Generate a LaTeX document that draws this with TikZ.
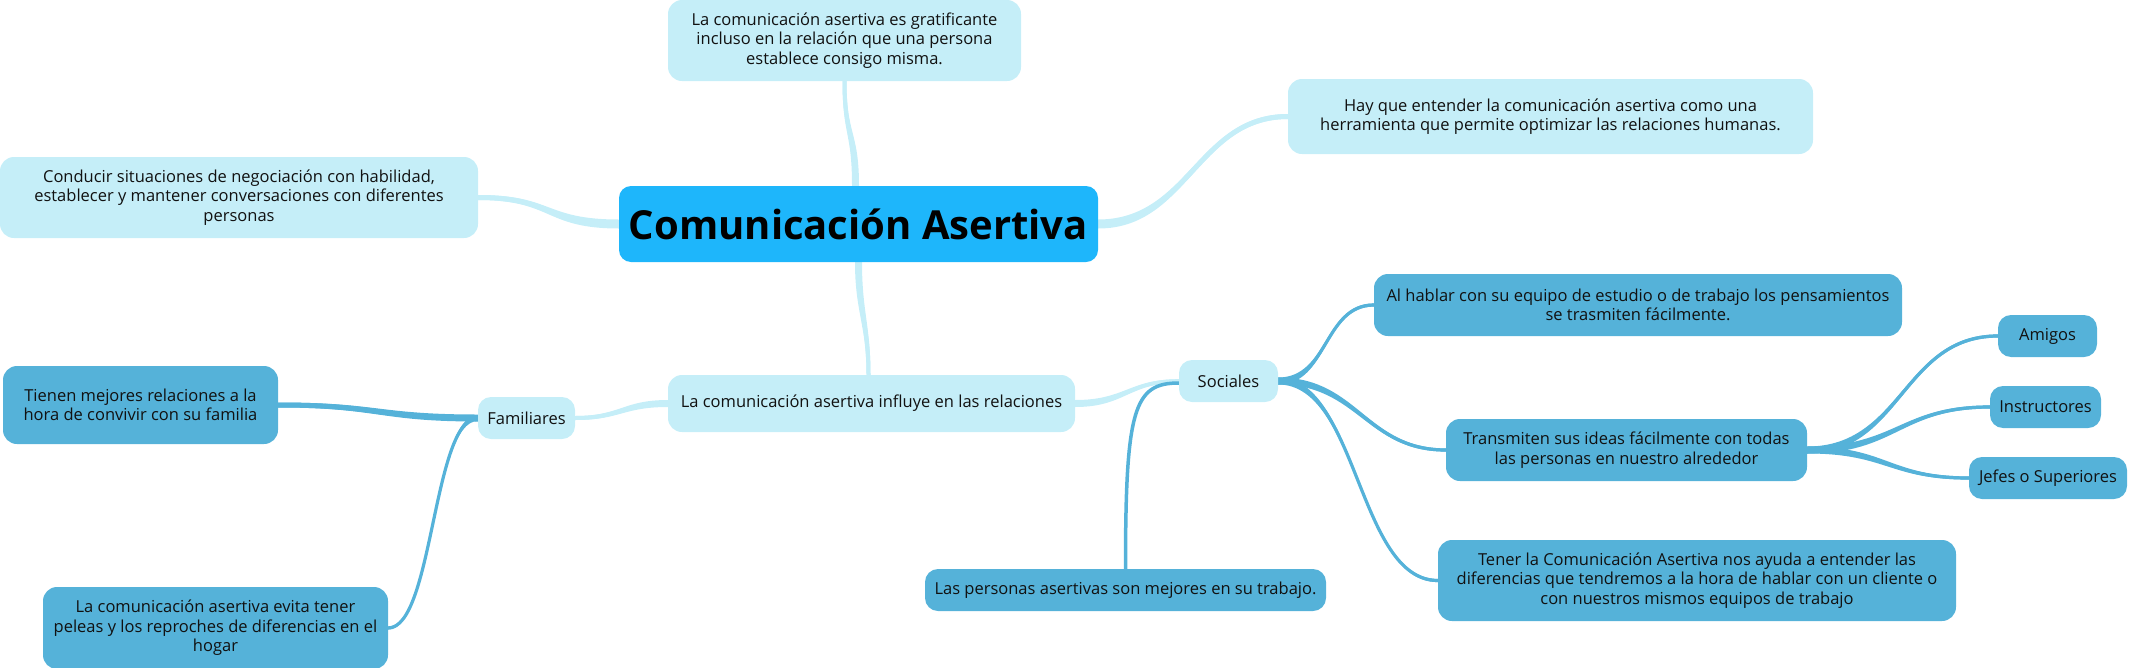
\documentclass[tikz,border=0pt]{standalone}
\usepackage{fontspec}
\setmainfont{Open Sans}
\usetikzlibrary{backgrounds,calc}
\definecolor{lightc}{HTML}{C5EEF8}
\definecolor{rootc}{HTML}{1EB6FB}
\definecolor{darkc}{HTML}{55B2D9}
\definecolor{txtc}{HTML}{111111}
\tikzset{
  mmbox/.style={rounded corners=14pt, inner sep=0pt, align=center, text=txtc,
    font=\fontsize{16.5}{19.5}\selectfont},
  lightbox/.style={mmbox, fill=lightc},
  darkbox/.style={mmbox, fill=darkc},
  rootbox/.style={mmbox, fill=rootc, rounded corners=12pt, text=black,
    font=\fontsize{40}{48}\selectfont\bfseries},
  dline/.style={draw=darkc, line width=3.5pt, line cap=round},
}
% tapered connector, horizontal tangents: start, end, c1dx, c2dx, half-width start, half-width end, colour
\newcommand\taperh[7]{%
  \fill[#7] ($(#1)+(0,-#5)$) .. controls ($(#1)+(#3,-#5)$) and ($(#2)+(#4,-#6)$) .. ($(#2)+(0,-#6)$)
     -- ($(#2)+(0,#6)$) .. controls ($(#2)+(#4,#6)$) and ($(#1)+(#3,#5)$) .. ($(#1)+(0,#5)$) -- cycle;
  \draw[#7, line width={2*#6pt}] (#1) .. controls +(#3,0) and +(#4,0) .. (#2);}
% tapered connector, vertical tangents
\newcommand\taperv[7]{%
  \fill[#7] ($(#1)+(-#5,0)$) .. controls ($(#1)+(-#5,#3)$) and ($(#2)+(-#6,#4)$) .. ($(#2)+(-#6,0)$)
     -- ($(#2)+(#6,0)$) .. controls ($(#2)+(#6,#4)$) and ($(#1)+(#5,#3)$) .. ($(#1)+(#5,0)$) -- cycle;
  \draw[#7, line width={2*#6pt}] (#1) .. controls +(0,#3) and +(0,#4) .. (#2);}
\begin{document}
\begin{tikzpicture}[x=1pt,y=-1pt]
\useasboundingbox (0,0) rectangle (2129,667);
% nodes
\node[rootbox, minimum width=479pt, minimum height=76pt] (root) at (858.5,224) {Comunicación Asertiva};
\node[lightbox, minimum width=353pt, minimum height=81pt] (top) at (844.5,40.5)
  {La comunicación asertiva es gratificante\\incluso en la relación que una persona\\establece consigo misma.};
\node[lightbox, minimum width=478pt, minimum height=81pt] (conducir) at (239,197.5)
  {Conducir situaciones de negociación con habilidad,\\establecer y mantener conversaciones con diferentes\\personas};
\node[lightbox, minimum width=525pt, minimum height=75pt] (hayque) at (1550.5,116.5)
  {Hay que entender la comunicación asertiva como una\\herramienta que permite optimizar las relaciones humanas.};
\node[lightbox, minimum width=407pt, minimum height=57pt] (influye) at (871.5,403.5)
  {La comunicación asertiva influye en las relaciones};
\node[lightbox, minimum width=97pt, minimum height=42pt, rounded corners=13pt] (familiares) at (526.5,418) {Familiares};
\node[lightbox, minimum width=99pt, minimum height=42pt, rounded corners=13pt] (sociales) at (1228.5,381) {Sociales};
\node[darkbox, minimum width=275pt, minimum height=78pt] (tienen) at (140.5,405)
  {Tienen mejores relaciones a la\\hora de convivir con su familia};
\node[darkbox, minimum width=345pt, minimum height=82pt] (evita) at (215.5,628)
  {La comunicación asertiva evita tener\\peleas y los reproches de diferencias en el\\hogar};
\node[darkbox, minimum width=528pt, minimum height=62pt] (alhablar) at (1638,305)
  {Al hablar con su equipo de estudio o de trabajo los pensamientos\\se trasmiten fácilmente.};
\node[darkbox, minimum width=361pt, minimum height=62pt] (transmiten) at (1626.5,450)
  {Transmiten sus ideas fácilmente con todas\\las personas en nuestro alrededor};
\node[darkbox, minimum width=518pt, minimum height=81pt] (tener) at (1697,580.5)
  {Tener la Comunicación Asertiva nos ayuda a entender las\\diferencias que tendremos a la hora de hablar con un cliente o\\con nuestros mismos equipos de trabajo};
\node[darkbox, minimum width=401pt, minimum height=42pt, rounded corners=13pt] (laspersonas) at (1125.5,590)
  {Las personas asertivas son mejores en su trabajo.};
\node[darkbox, minimum width=99pt, minimum height=42pt, rounded corners=13pt] (amigos) at (2047.5,336) {Amigos};
\node[darkbox, minimum width=111pt, minimum height=42pt, rounded corners=13pt] (instructores) at (2045.5,407) {Instructores};
\node[darkbox, minimum width=158pt, minimum height=42pt, rounded corners=13pt] (jefes) at (2048,478) {Jefes o Superiores};
\coordinate (rootN) at ([xshift=-3pt]root.north);
\coordinate (influyeN) at ([xshift=-3pt]influye.north);
\coordinate (socW) at ([yshift=-2pt]sociales.west);
% connectors
\begin{pgfonlayer}{background}
\taperv{rootN}{top.south}{-55}{55}{3.5}{2}{lightc}
\taperv{root.south}{influyeN}{50}{-50}{3.5}{2}{lightc}
\taperh{root.west}{conducir.east}{-75}{75}{4.5}{2.5}{lightc}
\taperh{root.east}{hayque.west}{90}{-90}{4.5}{2.5}{lightc}
\taperh{influye.west}{familiares.east}{-45}{45}{3.5}{2}{lightc}
\taperh{influye.east}{sociales.west}{50}{-50}{3.5}{1.8}{lightc}
\taperh{sociales.east}{alhablar.west}{50}{-50}{3.5}{1.6}{darkc}
\taperh{sociales.east}{transmiten.west}{80}{-80}{3.5}{1.6}{darkc}
\taperh{sociales.east}{tener.west}{80}{-80}{3.5}{1.6}{darkc}
\draw[dline] (socW) .. controls +(-45,0) and +(0,-160) .. (laspersonas.north);
\taperh{transmiten.east}{amigos.west}{95}{-95}{3.5}{1.6}{darkc}
\taperh{transmiten.east}{instructores.west}{90}{-90}{3.5}{1.6}{darkc}
\taperh{transmiten.east}{jefes.west}{80}{-80}{3.5}{1.6}{darkc}
\taperh{familiares.west}{tienen.east}{-100}{100}{3.5}{2.5}{darkc}
\taperh{familiares.west}{evita.east}{-45}{45}{3}{1.6}{darkc}
\end{pgfonlayer}
\end{tikzpicture}
\end{document}
